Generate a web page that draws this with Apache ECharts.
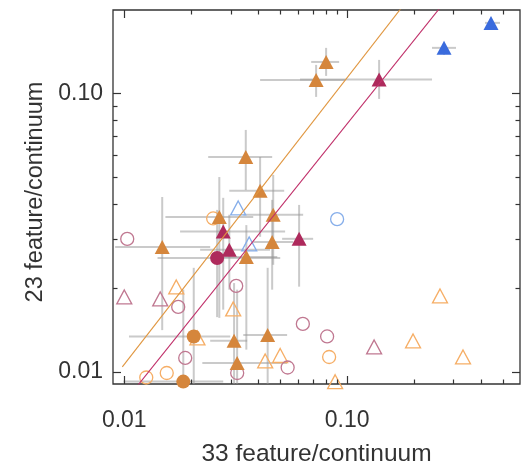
<!DOCTYPE html>
<html><head><meta charset="utf-8">
<script src="https://cdn.jsdelivr.net/npm/echarts@6/dist/echarts.min.js"></script>
<style>html,body{margin:0;padding:0;background:#fff}#c{width:521px;height:467px}</style>
</head><body><div id="c"></div>
<script>
// ---- data: [x (33 feature/continuum), y (23 feature/continuum)] ----
const orangeTri = [[0.0805,0.1295],[0.0726,0.1116],[0.0351,0.0590],[0.0407,0.0446],[0.0466,0.0366],[0.0267,0.0359],[0.0148,0.02805],[0.0461,0.0292],[0.0353,0.0258],[0.0311,0.0129],[0.0440,0.01354],[0.0321,0.01074]];
// error ranges [xlo, xhi, ylo, yhi]
const orangeTriErr = [[0.0690,0.0921,0.1154,0.1455],[0.0407,0.0980,0.0970,0.1264],[0.0238,0.0461,0.0449,0.0738],[0.0296,0.0522,0.0305,0.0590],[0.0342,0.0635,0.0242,0.0509],[0.0153,0.0379,0.0156,0.0500],[0.0091,0.0243,0.0141,0.0424],[0.0379,0.0573,0.0197,0.0414],[0.0243,0.0486,0.0120,0.0336],[0.0243,0.0356,0.0088,0.0208],[0.0342,0.0538,0.0088,0.0236],[0.0224,0.0538,0.0088,0.0197]];
const crimsonTri = [[0.1392,0.1121],[0.0278,0.0319],[0.0609,0.0300],[0.0296,0.0274]];
const crimsonTriErr = [[0.0615,0.2405,0.0954,0.1317],[0.0178,0.0527,0.0167,0.0421],[0.0511,0.0704,0.0202,0.0397],[0.0219,0.0451,0.0197,0.0366]];
const crimsonDot = [[0.0261,0.0256]];
const crimsonDotErr = [[0.0141,0.0501,0.0157,0.0381]];
const orangeDot = [[0.0205,0.01338],[0.0184,0.00921]];
const orangeDotErr = [[0.0105,0.0299,0.0088,0.0236],[0.0099,0.0278,0.0088,0.0197]];
const blueTri = [[0.2723,0.1455],[0.4424,0.1789]];
const blueTriErr = [[0.2405,0.3082,0.1372,0.1491],[0.4157,0.4856,0.1720,0.1840]];
const blueOpenTri = [[0.03245,0.03873],[0.03636,0.02875]];
const blueOpenDot = [[0.0902,0.0353]];
const orangeOpenTri = [[0.01711,0.02015],[0.03082,0.01680],[0.0213,0.01322],[0.04289,0.01093],[0.05007,0.01143],[0.08835,0.0092],[0.1977,0.01289],[0.2612,0.01870],[0.3313,0.01129]];
const orangeOpenDot = [[0.02506,0.0355],[0.01255,0.00953],[0.01551,0.00989],[0.08305,0.01129]];
const crimsonOpenTri = [[0.0100,0.01855],[0.01450,0.01824],[0.1322,0.01227]];
const crimsonOpenDot = [[0.01031,0.02997],[0.03179,0.02032],[0.01746,0.01708],[0.0633,0.01484],[0.08135,0.01338],[0.01877,0.01120],[0.0541,0.01035],[0.03212,0.00989]];
const orangeFit = [[0.0098,0.0104],[0.2,0.232]];
const crimsonFit = [[0.0110,0.00854],[0.3,0.2328]];
// ---- axes ----
const xRange = [0.0089, 0.597];
const yRange = [0.00903, 0.199];
const xMajorTicks = [0.01, 0.1];
const xTickLabels = ['0.01', '0.10'];
const xMinorTicks = [0.02,0.03,0.04,0.05,0.06,0.07,0.08,0.09,0.2,0.3,0.4,0.5];
const yMajorTicks = [0.01, 0.1];
const yTickLabels = ['0.01', '0.10'];
const yMinorTicks = [0.02,0.03,0.04,0.05,0.06,0.07,0.08,0.09];

const FONT = 'Liberation Sans, Arial, Helvetica, sans-serif';
const TXT = '#333';
const C = {orange:'#D5863C', crimson:'#AE2A5C', blue:'#3A6BDD', oOpen:'#F6AE66', bOpen:'#86AEEA', cOpen:'#C07891', oLine:'#E0963F', cLine:'#C0306A'};

function fmt(majors, labels) {
  return v => {
    for (let i = 0; i < majors.length; i++) if (Math.abs(Math.log10(v) - Math.log10(majors[i])) < 1e-6) return labels[i];
    return '';
  };
}
function merge(pts, err) { return pts.map((p, i) => [p[0], p[1]].concat(err[i])); }
function errSeries(pts, err) {
  return {
    type: 'custom', data: merge(pts, err), encode: {x: 0, y: 1}, clip: true, silent: true, z: 1,
    renderItem: (params, api) => {
      const x = api.value(0), y = api.value(1);
      const a = api.coord([api.value(2), y]), b = api.coord([api.value(3), y]);
      const c = api.coord([x, api.value(4)]), d = api.coord([x, api.value(5)]);
      const st = {stroke: 'rgba(150,150,150,0.5)', lineWidth: 2};
      return {type: 'group', children: [
        {type: 'line', shape: {x1: a[0], y1: a[1], x2: b[0], y2: b[1]}, style: st},
        {type: 'line', shape: {x1: c[0], y1: c[1], x2: d[0], y2: d[1]}, style: st}
      ]};
    }
  };
}
function sc(data, symbol, size, fill, stroke, z) {
  return {
    type: 'scatter', data, symbol, symbolSize: size, clip: true, silent: true, z,
    itemStyle: fill ? {color: fill, opacity: 1} : {color: 'rgba(0,0,0,0)', borderColor: stroke, borderWidth: 1.3, opacity: 1},
    emphasis: {disabled: true}
  };
}
function tickSeries(vals, len, axis) {
  const mid = 0.05;
  return {
    type: 'custom', silent: true, z: 20, clip: false,
    data: vals.map(v => axis === 'x' ? [v, mid, len] : [mid, v, len]),
    encode: {x: 0, y: 1},
    renderItem: (params, api) => {
      const cs = params.coordSys;
      const p = api.coord([api.value(0), api.value(1)]);
      const L = api.value(2);
      const st = {stroke: '#333', lineWidth: 1.2};
      if (axis === 'x') {
        const px = Math.round(p[0]) + 0.5;
        return {type: 'group', children: [
          {type: 'line', shape: {x1: px, y1: cs.y + cs.height, x2: px, y2: cs.y + cs.height - L}, style: st},
          {type: 'line', shape: {x1: px, y1: cs.y, x2: px, y2: cs.y + L}, style: st}
        ]};
      }
      const py = Math.round(p[1]) + 0.5;
      return {type: 'group', children: [
        {type: 'line', shape: {x1: cs.x, y1: py, x2: cs.x + L, y2: py}, style: st},
        {type: 'line', shape: {x1: cs.x + cs.width, y1: py, x2: cs.x + cs.width - L, y2: py}, style: st}
      ]};
    }
  };
}

const chart = echarts.init(document.getElementById('c'), null, {renderer: 'canvas'});
chart.setOption({
  animation: false,
  backgroundColor: '#fff',
  grid: {left: 113, right: 1, top: 10, bottom: 83, show: true, borderColor: '#333', borderWidth: 1.3, containLabel: false, outerBoundsMode: 'none'},
  xAxis: {
    type: 'log', logBase: 10, min: xRange[0], max: xRange[1],
    axisLine: {show: false}, axisTick: {show: false}, splitLine: {show: false}, minorTick: {show: false},
    axisLabel: {formatter: fmt(xMajorTicks, xTickLabels), fontSize: 23, color: TXT, fontFamily: FONT, margin: 25},
    name: '33 feature/continuum', nameLocation: 'middle', nameGap: 58,
    nameTextStyle: {fontSize: 24.5, color: TXT, fontFamily: FONT}
  },
  yAxis: {
    type: 'log', logBase: 10, min: yRange[0], max: yRange[1],
    axisLine: {show: false}, axisTick: {show: false}, splitLine: {show: false}, minorTick: {show: false},
    axisLabel: {formatter: fmt(yMajorTicks, yTickLabels), fontSize: 23, color: TXT, fontFamily: FONT, margin: 10, padding: [6, 0, 0, 0]},
    name: '23 feature/continuum', nameLocation: 'middle', nameGap: 49,
    nameTextStyle: {fontSize: 23.5, color: TXT, fontFamily: FONT, padding: [0, 0, 0, 10]}
  },
  series: [
    errSeries(orangeTri, orangeTriErr),
    errSeries(crimsonTri, crimsonTriErr),
    errSeries(crimsonDot, crimsonDotErr),
    errSeries(orangeDot, orangeDotErr),
    errSeries(blueTri, blueTriErr),
    sc(orangeOpenTri, 'triangle', [15, 14], null, C.oOpen, 3),
    sc(orangeOpenDot, 'circle', 13, null, C.oOpen, 3),
    sc(crimsonOpenTri, 'triangle', [15, 14], null, C.cOpen, 3),
    sc(crimsonOpenDot, 'circle', 13, null, C.cOpen, 3),
    sc(blueOpenTri, 'triangle', [15, 14], null, C.bOpen, 3),
    sc(blueOpenDot, 'circle', 13, null, C.bOpen, 3),
    sc(orangeTri, 'triangle', [15, 14], C.orange, null, 4),
    sc(orangeDot, 'circle', 14, C.orange, null, 4),
    sc(crimsonTri, 'triangle', [15, 14], C.crimson, null, 5),
    sc(crimsonDot, 'circle', 14, C.crimson, null, 5),
    sc(blueTri, 'triangle', [15, 14], C.blue, null, 5),
    {type: 'line', data: orangeFit, showSymbol: false, clip: true, silent: true, z: 8, lineStyle: {color: C.oLine, width: 1.1}, itemStyle: {color: C.oLine}},
    {type: 'line', data: crimsonFit, showSymbol: false, clip: true, silent: true, z: 8, lineStyle: {color: C.cLine, width: 1.1}, itemStyle: {color: C.cLine}},
    tickSeries(xMajorTicks, 8, 'x'),
    tickSeries(xMinorTicks, 4.5, 'x'),
    tickSeries(yMajorTicks, 8, 'y'),
    tickSeries(yMinorTicks, 4.5, 'y')
  ]
});
</script></body></html>
